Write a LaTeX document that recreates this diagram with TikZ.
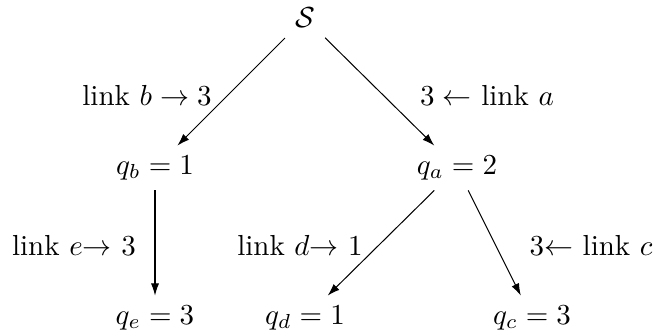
\documentclass[tikz,border=0pt]{standalone}
\usetikzlibrary{arrows.meta}
\begin{document}
\begin{tikzpicture}[x=0.345pt,y=-0.345pt,
  edge/.style={-{Latex[length=4.2pt,width=2.8pt]},line width=0.35pt},
  lbl/.style={inner sep=0pt}]
\useasboundingbox (0,0) rectangle (661,335);
\node (S) at (305,18) {$\mathcal{S}$};
\node (qb) at (155,168) {$q_b = 1$};
\node (qa) at (457,168) {$q_a = 2$};
\node (qe) at (155,318) {$q_e = 3$};
\node (qd) at (305,318) {$q_d = 1$};
\node (qc) at (532,318) {$q_c = 3$};
\node[lbl] (lb) at (147,95) {link $b \rightarrow 3$};
\node[lbl] (la) at (487,95) {$3 \leftarrow$ link $a$};
\node[lbl] (le) at (74,245) {link $e{\rightarrow}$ $3$};
\node[lbl] (ld) at (300,245) {link $d{\rightarrow}$ $1$};
\node[lbl] (lc) at (591,245) {$3{\leftarrow}$ link $c$};
\draw[edge] (S) -- (qb);
\draw[edge] (S) -- (qa);
\draw[edge] (qb) -- (qe);
\draw[edge] (qa) -- (qd);
\draw[edge] (qa) -- (qc);
\end{tikzpicture}
\end{document}
